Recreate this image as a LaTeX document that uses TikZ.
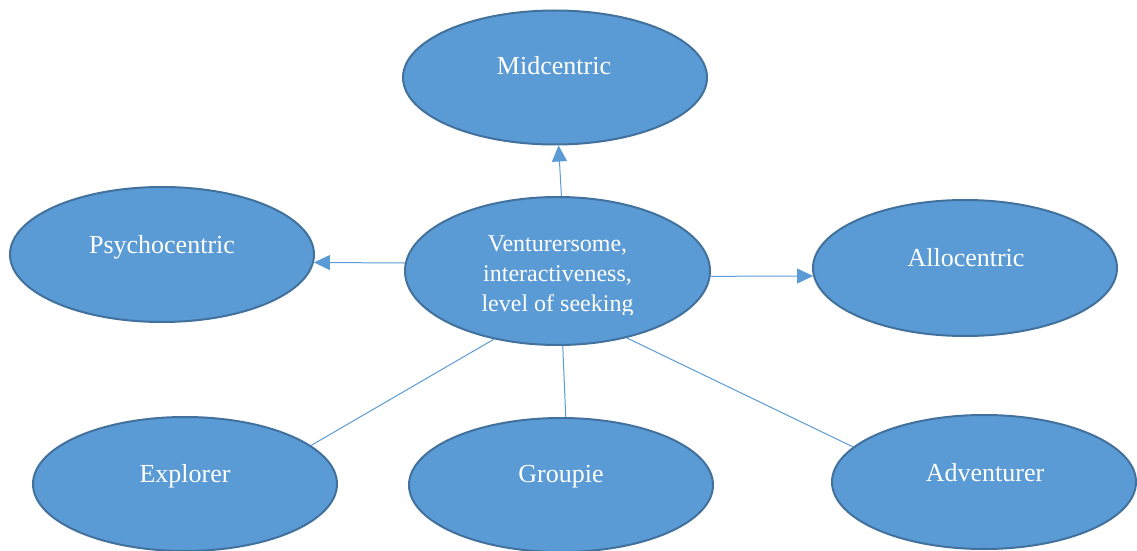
\documentclass[tikz,border=0pt]{standalone}
\usepackage{fontspec}
\setmainfont{Liberation Serif}
\usetikzlibrary{shapes.geometric,arrows.meta}
\definecolor{ofill}{HTML}{5B9BD5}
\definecolor{oline}{HTML}{41719C}
\begin{document}
\begin{tikzpicture}[x=1pt,y=1pt,
  oval/.style={ellipse, draw=oline, fill=ofill, line width=2pt, minimum width=304pt, minimum height=134pt, inner sep=0pt},
  lbl/.style={text=white, font=\fontsize{26}{30}\selectfont, anchor=base, inner sep=0pt},
  conn/.style={draw=ofill, line width=1pt},
  arr/.style={conn, -{Triangle[length=16pt,width=15pt]}}]
\useasboundingbox (0,0) rectangle (1137,550);
% ellipses
\node[oval] (m) at (555,472.5) {};
\node[oval, minimum height=135pt] (p) at (162,295.5) {};
\node[oval, minimum width=305pt, minimum height=148pt] (c) at (557.5,279) {};
\node[oval, minimum height=136pt] (a) at (965,282) {};
\node[oval] (e) at (185,66) {};
\node[oval] (g) at (561,65) {};
\node[oval] (v) at (984,68) {};
% labels
\node[lbl] (mt) at (554,475) {Midcentric};
\node[lbl] (pt) at (162,297) {Psychocentric};
\node[lbl] (alt) at (966,284) {Allocentric};
\node[lbl] (et) at (185,68) {Explorer};
\node[lbl] (gt) at (561,68) {Groupie};
\node[lbl] (vt) at (985,69) {Adventurer};
\begin{scope}
\clip (0,236) rectangle (1137,550);
\node[text=white, font=\fontsize{24}{30}\selectfont, align=center, anchor=north, inner sep=0pt] (ct) at (557.5,314) {Venturersome,\\interactiveness,\\level of seeking};
\end{scope}
% connectors
\draw[arr] (c.87) -- (m.-87);
\draw[arr] (c.177) -- (p.-3);
\draw[arr] (c.-2) -- (a.-177);
\draw[conn] (c.-133) -- (e.17);
\draw[conn] (c.-86) -- (g.86);
\draw[conn] (c.-44) -- (v.165);
\end{tikzpicture}
\end{document}
